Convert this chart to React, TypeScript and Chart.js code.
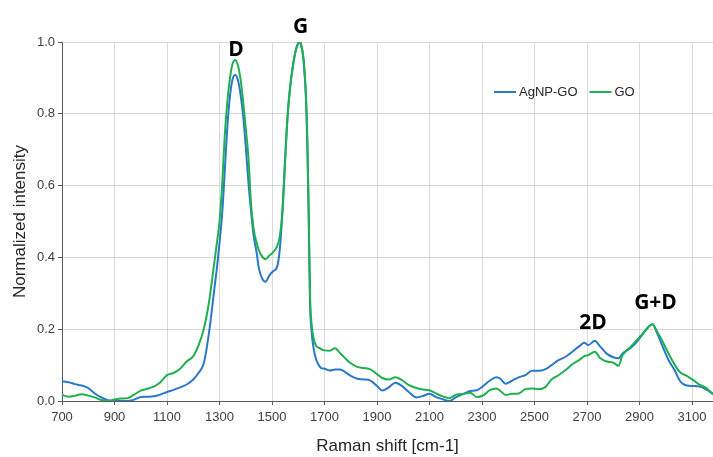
import React, { useEffect, useRef } from 'react';
import { Chart, registerables } from 'chart.js';

Chart.register(...registerables);

// Raman shift (cm-1)
const shift = [
  700, 725, 750, 775, 800, 825, 850, 875, 900, 925, 950, 975, 1000, 1025, 1050, 1075, 1100, 1125, 1150, 1175,
  1200, 1220, 1240, 1260, 1280, 1290, 1300, 1310, 1320, 1330, 1340, 1350, 1360, 1370, 1380, 1390, 1400, 1410,
  1420, 1430, 1440, 1450, 1460, 1475, 1490, 1505, 1520, 1530, 1540, 1550, 1560, 1570, 1580, 1590, 1600, 1605,
  1610, 1620, 1630, 1635, 1640, 1645, 1650, 1660, 1670, 1680, 1690, 1700, 1720, 1740, 1760, 1780, 1800, 1825,
  1850, 1875, 1900, 1920, 1945, 1970, 1995, 2020, 2050, 2075, 2100, 2125, 2150, 2175, 2200, 2230, 2255, 2280,
  2305, 2330, 2355, 2370, 2390, 2415, 2440, 2465, 2490, 2515, 2540, 2565, 2590, 2620, 2645, 2670, 2690, 2705,
  2730, 2750, 2775, 2800, 2820, 2835, 2850, 2865, 2890, 2915, 2935, 2950, 2965, 2985, 3010, 3035, 3055, 3080,
  3105, 3130, 3155, 3180,
];

const agnpGO = [
  0.055, 0.052, 0.047, 0.043, 0.036, 0.021, 0.010, 0.002, 0.000, 0.000, 0.000, 0.004, 0.011, 0.012, 0.013, 0.018, 0.025, 0.031, 0.038, 0.046,
  0.060, 0.078, 0.105, 0.190, 0.310, 0.370, 0.440, 0.520, 0.640, 0.765, 0.850, 0.897, 0.908, 0.894, 0.855, 0.795, 0.710, 0.610,
  0.530, 0.460, 0.420, 0.370, 0.345, 0.332, 0.350, 0.362, 0.375, 0.425, 0.530, 0.675, 0.800, 0.880, 0.935, 0.975, 0.997, 1.000,
  0.993, 0.950, 0.830, 0.700, 0.500, 0.270, 0.200, 0.140, 0.112, 0.098, 0.091, 0.090, 0.085, 0.088, 0.088, 0.080, 0.070, 0.062,
  0.060, 0.057, 0.042, 0.029, 0.038, 0.051, 0.042, 0.026, 0.010, 0.014, 0.020, 0.011, 0.005, 0.000, 0.010, 0.020, 0.028, 0.030,
  0.042, 0.057, 0.066, 0.062, 0.048, 0.057, 0.066, 0.072, 0.084, 0.084, 0.088, 0.100, 0.113, 0.124, 0.138, 0.152, 0.162, 0.156,
  0.168, 0.152, 0.132, 0.122, 0.119, 0.132, 0.140, 0.147, 0.165, 0.189, 0.207, 0.214, 0.193, 0.157, 0.115, 0.084, 0.055, 0.043,
  0.042, 0.040, 0.032, 0.020,
];

const grapheneOxide = [
  0.017, 0.012, 0.015, 0.019, 0.015, 0.010, 0.003, 0.000, 0.004, 0.007, 0.008, 0.018, 0.029, 0.034, 0.040, 0.052, 0.072, 0.078, 0.090, 0.110,
  0.125, 0.155, 0.200, 0.275, 0.385, 0.440, 0.500, 0.600, 0.740, 0.835, 0.900, 0.940, 0.950, 0.935, 0.898, 0.835, 0.760, 0.680,
  0.550, 0.480, 0.445, 0.420, 0.405, 0.395, 0.405, 0.415, 0.432, 0.460, 0.530, 0.670, 0.800, 0.880, 0.935, 0.975, 0.997, 1.000,
  0.995, 0.955, 0.840, 0.720, 0.520, 0.290, 0.220, 0.170, 0.152, 0.148, 0.143, 0.141, 0.140, 0.147, 0.133, 0.118, 0.105, 0.095,
  0.092, 0.088, 0.075, 0.064, 0.060, 0.066, 0.058, 0.045, 0.036, 0.032, 0.030, 0.021, 0.013, 0.008, 0.017, 0.020, 0.023, 0.011,
  0.016, 0.030, 0.035, 0.028, 0.017, 0.020, 0.021, 0.033, 0.035, 0.033, 0.038, 0.060, 0.071, 0.087, 0.103, 0.114, 0.125, 0.128,
  0.137, 0.120, 0.110, 0.107, 0.098, 0.127, 0.140, 0.150, 0.170, 0.190, 0.207, 0.214, 0.196, 0.170, 0.133, 0.100, 0.080, 0.070,
  0.058, 0.045, 0.036, 0.018,
];

const seriesNames = ['AgNP-GO', 'GO'];
const xTickValues = [700, 900, 1100, 1300, 1500, 1700, 1900, 2100, 2300, 2500, 2700, 2900, 3100];

// Peak annotations: label, Raman shift, intensity of label baseline
const peakNames = ['D', 'G', '2D', 'G+D'];
const peakShift = [1363, 1609, 2723, 2961];
const peakLevel = [0.961, 1.025, 0.2, 0.256];

const FONT = '"Liberation Sans", Arial, sans-serif';
const BLUE = '#2a78c8';
const GREEN = '#1fb050';

export default function App() {
  const ref = useRef<HTMLCanvasElement>(null);

  useEffect(() => {
    document.body.style.margin = '0';
    if (!ref.current) return;

    const annotate = {
      id: 'annotate',
      afterDatasetsDraw(chart: any) {
        const { ctx, chartArea, scales } = chart;
        const x = scales.x;
        const y = scales.y;
        ctx.save();
        // peak labels
        ctx.font = 'bold 21px "Open Sans", sans-serif';
        ctx.fillStyle = '#000000';
        ctx.textAlign = 'center';
        ctx.textBaseline = 'alphabetic';
        peakNames.forEach((n, i) => {
          ctx.fillText(n, x.getPixelForValue(peakShift[i]), y.getPixelForValue(peakLevel[i]));
        });
        // legend
        const colors = [BLUE, GREEN];
        let lx = chartArea.left + 432;
        const ly = chartArea.top + 50;
        ctx.font = '13px ' + FONT;
        ctx.textAlign = 'left';
        ctx.textBaseline = 'middle';
        seriesNames.forEach((name, i) => {
          ctx.strokeStyle = colors[i];
          ctx.lineWidth = 2;
          ctx.beginPath();
          ctx.moveTo(lx, ly);
          ctx.lineTo(lx + 22, ly);
          ctx.stroke();
          ctx.fillStyle = '#262626';
          ctx.fillText(name, lx + 25, ly);
          lx += 25 + ctx.measureText(name).width + 12;
        });
        ctx.restore();
      },
    };

    const chart = new Chart(ref.current, {
      type: 'line',
      data: {
        datasets: [
          {
            label: seriesNames[0],
            data: shift.map((s, i) => ({ x: s, y: agnpGO[i] })),
            borderColor: BLUE,
            backgroundColor: BLUE,
            borderWidth: 2,
            pointRadius: 0,
            cubicInterpolationMode: 'monotone',
            order: 1,
          },
          {
            label: seriesNames[1],
            data: shift.map((s, i) => ({ x: s, y: grapheneOxide[i] })),
            borderColor: GREEN,
            backgroundColor: GREEN,
            borderWidth: 2,
            pointRadius: 0,
            cubicInterpolationMode: 'monotone',
            order: 0,
          },
        ],
      },
      options: {
        animation: false,
        responsive: true,
        maintainAspectRatio: false,
        layout: { padding: { top: 42, right: 0, left: 0, bottom: 0 } },
        plugins: { legend: { display: false }, tooltip: { enabled: false } },
        scales: {
          x: {
            type: 'linear',
            min: 700,
            max: 3180,
            afterBuildTicks: (axis: any) => {
              axis.ticks = xTickValues.map((v) => ({ value: v }));
            },
            afterFit: (axis: any) => {
              axis.height = 56;
            },
            ticks: {
              font: { family: FONT, size: 13 },
              color: '#404040',
              padding: 5,
              maxRotation: 0,
              autoSkip: false,
              callback: (v: any) => String(v),
            },
            grid: { color: '#d9d9d9', lineWidth: 1, tickLength: 4, tickColor: '#595959' },
            border: { color: '#595959', width: 1 },
            title: {
              display: true,
              text: 'Raman shift [cm-1]',
              font: { family: FONT, size: 17 },
              color: '#262626',
              padding: { top: 0, bottom: 0 },
            },
          },
          y: {
            min: 0,
            max: 1,
            afterFit: (axis: any) => {
              axis.width = 62;
            },
            ticks: {
              stepSize: 0.2,
              font: { family: FONT, size: 13 },
              color: '#404040',
              padding: 3,
              callback: (v: any) => Number(v).toFixed(1),
            },
            grid: { color: '#d9d9d9', lineWidth: 1, tickLength: 4, tickColor: '#595959' },
            border: { color: '#595959', width: 1 },
            title: {
              display: true,
              text: 'Normalized intensity',
              font: { family: FONT, size: 17 },
              color: '#262626',
              padding: { top: 10, bottom: 0 },
            },
          },
        },
      },
      plugins: [annotate],
    });

    return () => chart.destroy();
  }, []);

  return (
    <div style={{ width: 713, height: 457, position: 'relative' }}>
      <canvas ref={ref} />
    </div>
  );
}
